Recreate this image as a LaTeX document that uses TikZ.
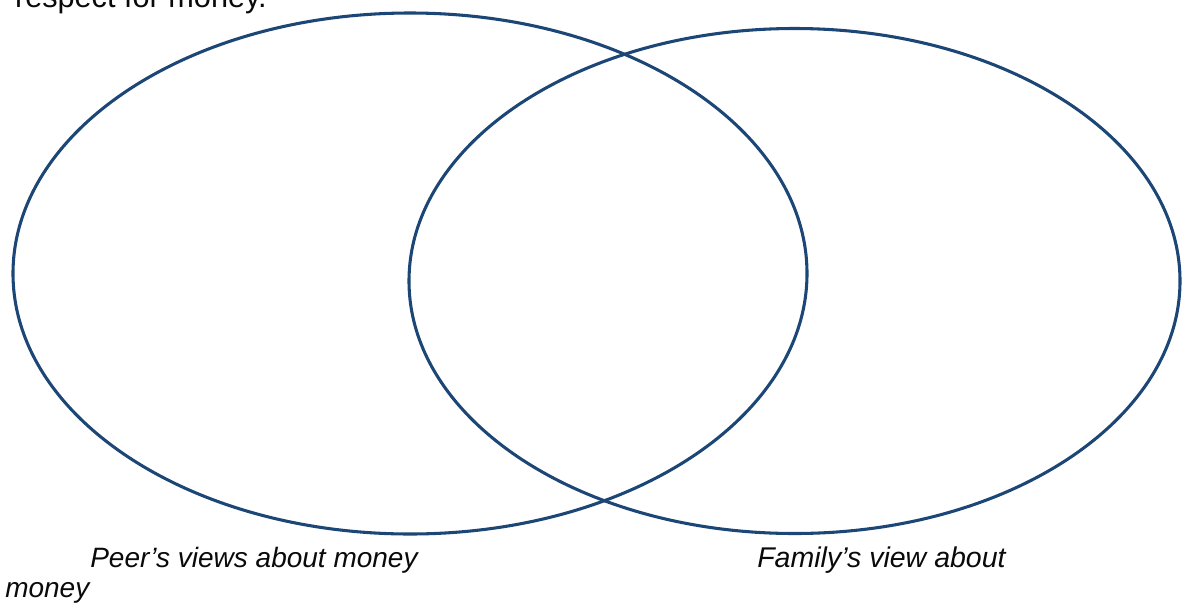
\documentclass[tikz,border=0pt]{standalone}
\usepackage{fontspec}
\setmainfont{Liberation Sans}
\usepackage{tikz}
\usetikzlibrary{
    positioning,
    shapes.geometric
}
\definecolor{VennBlue}{RGB}{28,70,118}
\definecolor{DarkText}{RGB}{10,10,10}

\begin{document}
\begin{tikzpicture}[x=0.75pt,y=-0.75pt]
%
    \clip
    (0,0)
    rectangle
    (1184,607);
    \useasboundingbox
    (0,0)
    rectangle
    (1184,607);
%
    % the two overlapping sets
%
    \node[
        ellipse,
        draw=VennBlue,
        line width=2.3pt,
        minimum width=595.5pt,
        minimum height=390.75pt,
        inner sep=0pt
    ]
    (peers)
    at (410,273.5) {};
%
    \node[
        ellipse,
        draw=VennBlue,
        line width=2.3pt,
        minimum width=578.25pt,
        minimum height=378.75pt,
        inner sep=0pt
    ]
    (family)
    at (794.5,281) {};
%
    % text cut off at the top edge
%
    \node[
        anchor=base east,
        inner sep=0pt,
        DarkText
    ]
    (prev)
    at (267,7) {
        \fontsize{23}{27}\selectfont respect for money.
    };
%
    % set labels
%
    \node[
        anchor=base west,
        inner sep=0pt,
        DarkText
    ]
    (peerlabel)
    at (90,567) {
        \fontsize{21}{25}\selectfont\itshape Peer’s views about money
    };
%
    \node[
        anchor=base west,
        inner sep=0pt,
        DarkText
    ]
    (familylabel)
    at (757,567) {
        \fontsize{21.4}{25}\selectfont\itshape Family’s view about
    };
%
    \node[
        anchor=base west,
        inner sep=0pt,
        DarkText
    ]
    (familylabelend)
    at (5,597) {
        \fontsize{21}{25}\selectfont\itshape money
    };
%
\end{tikzpicture}
\end{document}
